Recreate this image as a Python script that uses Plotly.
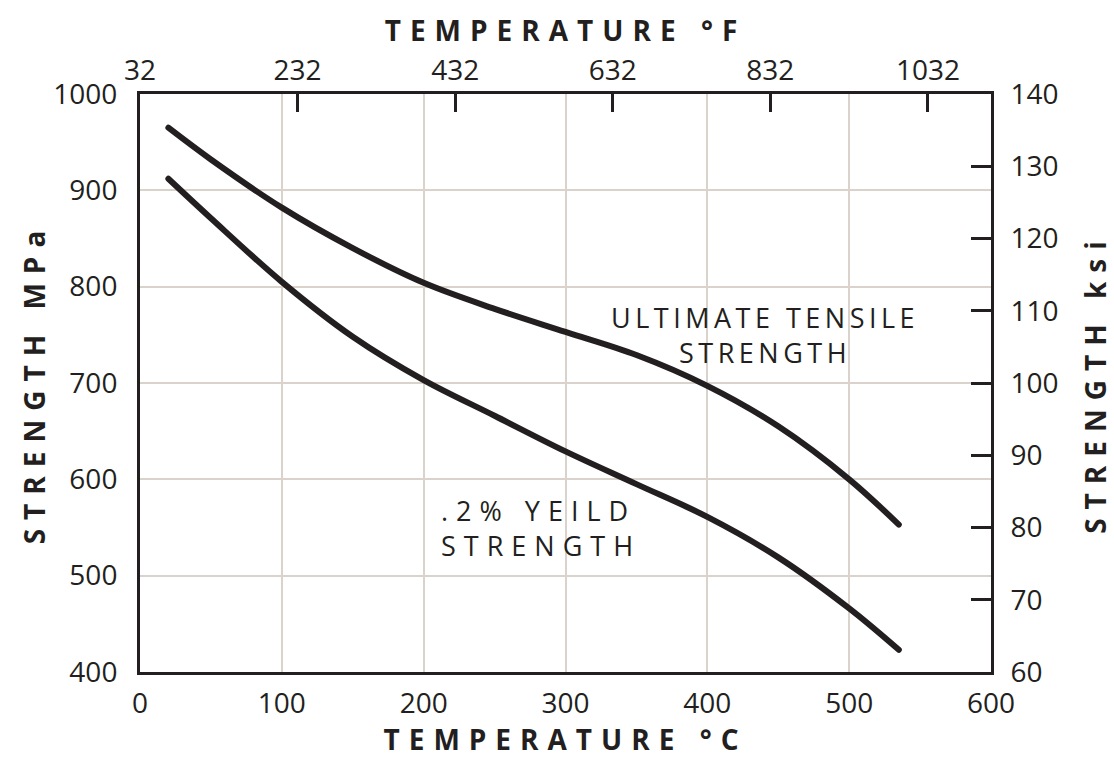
import plotly.graph_objects as go

# ---- data ----
temp_c = [20, 50, 100, 150, 200, 250, 300, 350, 400, 450, 500, 535]
uts_mpa = [965, 932, 882, 840, 804, 777, 753, 729, 697, 655, 600, 553]
yield_mpa = [912, 871, 805, 748, 703, 666, 629, 595, 561, 519, 466, 423]

c_ticks = [0, 100, 200, 300, 400, 500, 600]
f_ticks = [32, 232, 432, 632, 832, 1032]
mpa_ticks = [400, 500, 600, 700, 800, 900, 1000]
ksi_ticks = [60, 70, 80, 90, 100, 110, 120, 130, 140]

DARK = "#231f20"
GRID = "#d9d3cb"
TICKFONT = dict(family="Open Sans", size=28, color=DARK)
TITLEFONT = dict(family="Open Sans", size=28, color=DARK, weight="bold")

fig = go.Figure()
fig.add_trace(go.Scatter(x=temp_c, y=uts_mpa, mode="lines", line=dict(color=DARK, width=6, shape="spline"),
                         showlegend=False, hoverinfo="skip"))
fig.add_trace(go.Scatter(x=temp_c, y=yield_mpa, mode="lines", line=dict(color=DARK, width=6, shape="spline"),
                         showlegend=False, hoverinfo="skip"))
# empty trace so that the secondary (°F / ksi) axes are drawn
fig.add_trace(go.Scatter(x=[], y=[], xaxis="x2", yaxis="y2", showlegend=False, hoverinfo="skip"))

fig.update_layout(
    width=1114, height=758,
    margin=dict(l=140, r=123, t=94, b=86),
    paper_bgcolor="white", plot_bgcolor="white",
    xaxis=dict(range=[0, 600], tickvals=c_ticks, showgrid=True, gridcolor=GRID, gridwidth=2,
               showline=True, linecolor=DARK, linewidth=3, ticks="", ticklen=0, zeroline=False,
               automargin=False, tickfont=TICKFONT, ticklabelstandoff=4,
               title=dict(text="TEMPERATURE °C", font=TITLEFONT, standoff=9)),
    xaxis2=dict(range=[32, 1112], tickvals=f_ticks, overlaying="x", side="top", anchor="y",
                showgrid=False, showline=True, linecolor=DARK, linewidth=3, zeroline=False,
                automargin=False, ticks="inside", ticklen=18, tickwidth=2.5, tickcolor=DARK,
                tickfont=TICKFONT, ticklabelstandoff=0,
                title=dict(text="TEMPERATURE °F", font=TITLEFONT, standoff=0)),
    yaxis=dict(range=[400, 1000], tickvals=mpa_ticks, showgrid=True, gridcolor=GRID, gridwidth=2,
               showline=True, linecolor=DARK, linewidth=3, ticks="", ticklen=0, zeroline=False,
               automargin=False, tickfont=TICKFONT, ticklabelstandoff=14,
               title=dict(text="STRENGTH MPa", font=TITLEFONT, standoff=0)),
    yaxis2=dict(range=[60, 140], tickvals=ksi_ticks, overlaying="y", side="right", anchor="x",
                showgrid=False, showline=True, linecolor=DARK, linewidth=3, zeroline=False,
                automargin=False, ticks="inside", ticklen=20, tickwidth=2.5, tickcolor=DARK,
                tickfont=TICKFONT, ticklabelstandoff=11,
                title=dict(text="STRENGTH ksi", font=TITLEFONT, standoff=32)),
    annotations=[
        dict(x=441, y=750, xref="x", yref="y", text="ULTIMATE TENSILE<br>STRENGTH", showarrow=False,
             xanchor="center", yanchor="middle", align="center",
             font=dict(family="Open Sans", size=27, color=DARK)),
        dict(x=211, y=549, xref="x", yref="y", text=".2% YEILD<br>STRENGTH", showarrow=False,
             xanchor="left", yanchor="middle", align="left",
             font=dict(family="Open Sans", size=27, color=DARK)),
    ],
)

post = """
var gd = document.getElementById('{plot_id}');
function ls(sel, v){ gd.querySelectorAll(sel).forEach(function(e){ e.style.letterSpacing = v; }); }
ls('.xtitle', '9px'); ls('.x2title', '9px'); ls('.ytitle', '9px'); ls('.y2title', '9px');
var ann = gd.querySelectorAll('.annotation-text');
if (ann.length > 0) ann[0].style.letterSpacing = '4.5px';
if (ann.length > 1) ann[1].style.letterSpacing = '8px';
gd.querySelectorAll('.scatterlayer path.js-line').forEach(function(p){
  p.style.strokeLinecap = 'round'; p.style.strokeLinejoin = 'round'; });
"""
fig.write_html("out.html", post_script=post)
